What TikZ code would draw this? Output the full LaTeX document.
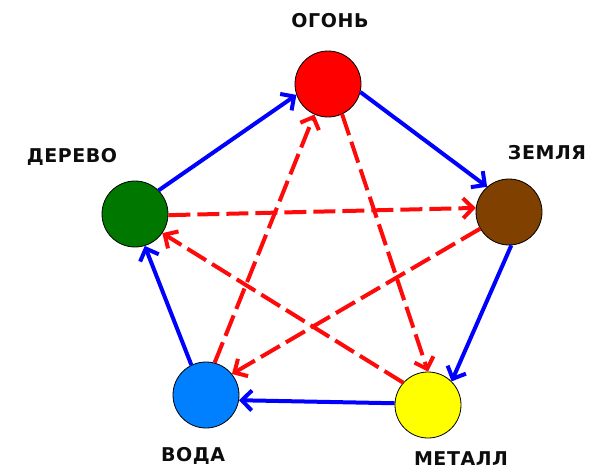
\documentclass[tikz,border=0pt]{standalone}
\usepackage{fontspec}
\setmainfont{DejaVu Sans}
\newfontfamily\lblfont[LetterSpace=3]{DejaVu Sans Bold}
\usetikzlibrary{arrows.meta}
\definecolor{fire}{RGB}{255,0,0}
\definecolor{earth}{RGB}{128,64,0}
\definecolor{metal}{RGB}{255,255,0}
\definecolor{water}{RGB}{0,128,255}
\definecolor{wood}{RGB}{0,120,0}
\definecolor{gen}{RGB}{0,0,255}
\definecolor{ctl}{RGB}{255,10,10}
\tikzset{
  elem/.style={circle, draw=black, line width=0.8pt, minimum size=66pt, inner sep=0pt},
  lbl/.style={font=\lblfont\fontsize{19}{19}\selectfont, text=black!95, inner sep=0pt},
  genarrow/.style={draw=gen, line width=4pt, -{Straight Barb[length=10pt,width=20pt,line width=4pt]}},
  ctlarrow/.style={draw=ctl, line width=4pt, dash pattern=on 22pt off 7pt, -{Straight Barb[length=10pt,width=20pt,line width=4pt]}}
}
\begin{document}
\begin{tikzpicture}[x=1pt,y=-1pt]
\useasboundingbox (0,0) rectangle (598,469);
\node[elem, fill=fire] (R) at (328,84) {};
\node[elem, fill=earth] (Z) at (509,212) {};
\node[elem, fill=metal] (M) at (428,405) {};
\node[elem, fill=water] (W) at (206,395) {};
\node[elem, fill=wood] (D) at (135,214) {};
\node[lbl] (lR) at (330,21) {ОГОНЬ};
\node[lbl] (lZ) at (547,153) {ЗЕМЛЯ};
\node[lbl] (lM) at (461,459) {МЕТАЛЛ};
\node[lbl] (lW) at (193,456) {ВОДА};
\node[lbl] (lD) at (72,157) {ДЕРЕВО};
% generating cycle
\draw[genarrow] (D.45) -- (R.199);
\draw[genarrow] (R.-14) -- (Z.131);
\draw[genarrow] (Z.-86) -- (M.45);
\draw[genarrow] (M.177) -- (W.-9);
\draw[genarrow] (W.116) -- (D.-73);
% controlling cycle
\draw[ctlarrow] (D.-2) -- (Z.173);
\draw[ctlarrow] (Z.210) -- (W.39);
\draw[ctlarrow] (W.75) -- (R.246);
\draw[ctlarrow] (R.-65) -- (M.90);
\draw[ctlarrow] (M.138) -- (D.-35);
\end{tikzpicture}
\end{document}
